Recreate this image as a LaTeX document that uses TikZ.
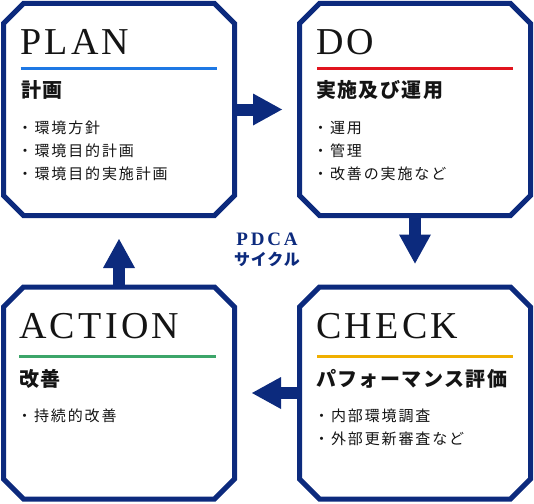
\documentclass[tikz,border=0pt]{standalone}
\usepackage{fontspec}
\setmainfont{Liberation Serif}
\newfontfamily\titlefont[LetterSpace=8.7]{Liberation Serif}
\newfontfamily\pdcafont[LetterSpace=15]{Liberation Serif}
\newfontfamily\jpitemfont[LetterSpace=12.5]{Noto Sans CJK JP}
\newfontfamily\jpheadfont[LetterSpace=7]{Noto Sans CJK JP}
\newfontfamily\jpcyclefont[LetterSpace=5]{Noto Sans CJK JP}
\usetikzlibrary{arrows.meta}
\definecolor{navy}{RGB}{12,42,125}
\definecolor{ink}{RGB}{20,20,20}
\definecolor{planblue}{RGB}{30,120,228}
\definecolor{dored}{RGB}{225,20,30}
\definecolor{actgreen}{RGB}{60,165,105}
\definecolor{checkamber}{RGB}{240,175,0}
\tikzset{
  stagearea/.style={rectangle, inner sep=0pt, outer sep=0pt,
    minimum width=231pt, minimum height=212pt},
  stageline/.style={draw=navy, line width=5pt, fill=white, line join=miter},
  stagetitle/.style={anchor=base west, inner sep=0pt, text=ink,
    font={\titlefont\fontsize{38}{38}\selectfont}},
  stagehead/.style={anchor=base west, inner sep=0pt, text=ink,
    font={\jpheadfont\bfseries\fontsize{20}{20}\selectfont}},
  stageitem/.style={anchor=base west, inner sep=0pt, text=ink,
    font={\jpitemfont\fontsize{15}{15}\selectfont}},
  cyclearrow/.style={draw=navy, line width=12pt,
    -{Triangle[length=29pt,width=32pt,line width=0pt]}},
}
% box with cut corners round a named node
\newcommand\stagebox[3]{%
  \node[stagearea] (#1) at (#2,#3) {};
  \draw[stageline] ([xshift=20pt]#1.north west) -- ([xshift=-20pt]#1.north east)
    -- ([yshift=-20pt]#1.north east) -- ([yshift=20pt]#1.south east)
    -- ([xshift=-20pt]#1.south east) -- ([xshift=20pt]#1.south west)
    -- ([yshift=20pt]#1.south west) -- ([yshift=-20pt]#1.north west) -- cycle;}
\begin{document}
\begin{tikzpicture}[x=1pt,y=-1pt]
  \useasboundingbox (0,0) rectangle (534,503);
  % the four stages
  \stagebox{plan}{119}{109.5}
  \stagebox{do}{415}{109.5}
  \stagebox{action}{119}{393}
  \stagebox{check}{415}{393}
  % cycle arrows
  \draw[cyclearrow, shorten >=17.5pt] (plan.east) -- (do.west);
  \draw[cyclearrow, shorten >=23.5pt] (do.south) -- (check.north);
  \draw[cyclearrow, shorten >=17.5pt] (check.west) -- (action.east);
  \draw[cyclearrow, shorten >=23.5pt] (action.north) -- (plan.south);
  % PLAN
  \node[stagetitle] (plantitle) at (20,55) {PLAN};
  \draw[planblue, line width=2.8pt] (20.7,68.3) -- (217,68.3);
  \node[stagehead] (planhead) at (21,97.5) {計画};
  \node[stageitem] (planitema) at (17.5,133.7) {・環境方針};
  \node[stageitem] (planitemb) at (17.5,156.7) {・環境目的計画};
  \node[stageitem] (planitemc) at (17.5,179.7) {・環境目的実施計画};
  % DO
  \node[stagetitle] (dotitle) at (316,55) {DO};
  \draw[dored, line width=2.8pt] (317,68.3) -- (513,68.3);
  \node[stagehead] (dohead) at (316,97.5) {実施及び運用};
  \node[stageitem] (doitema) at (313,133.7) {・運用};
  \node[stageitem] (doitemb) at (313,156.7) {・管理};
  \node[stageitem] (doitemc) at (313,179.7) {・改善の実施など};
  % CHECK
  \node[stagetitle] (checktitle) at (316,338.3) {CHECK};
  \draw[checkamber, line width=2.8pt] (317,356.3) -- (513,356.3);
  \node[stagehead] (checkhead) at (316,386.3) {パフォーマンス評価};
  \node[stageitem] (checkitema) at (314,421.7) {・内部環境調査};
  \node[stageitem] (checkitemb) at (314,444.7) {・外部更新審査など};
  % ACTION
  \node[stagetitle] (actiontitle) at (19,338.3) {ACTION};
  \draw[actgreen, line width=2.8pt] (19.3,356.3) -- (216,356.3);
  \node[stagehead] (actionhead) at (19,386) {改善};
  \node[stageitem] (actionitema) at (17,421.7) {・持続的改善};
  % centre label
  \node[anchor=base, inner sep=0pt, text=navy,
    font={\pdcafont\bfseries\fontsize{19}{19}\selectfont}] (pdca) at (267,245) {PDCA};
  \node[anchor=base, inner sep=0pt, text=navy,
    font={\jpcyclefont\bfseries\fontsize{16}{16}\selectfont}] (cycle) at (267,265.6) {サイクル};
\end{tikzpicture}
\end{document}
